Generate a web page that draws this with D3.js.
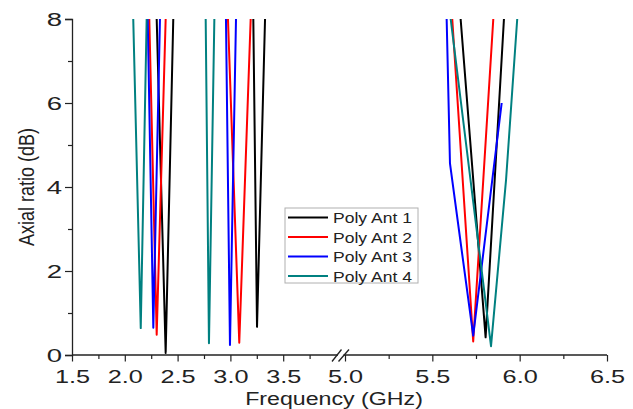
<!DOCTYPE html>
<html>
<head>
<meta charset="utf-8">
<script src="https://cdn.jsdelivr.net/npm/d3@7"></script>
<style>
  html, body { margin: 0; padding: 0; background: #fff; }
  svg { display: block; font-family: "Liberation Sans", Arial, sans-serif; }
</style>
</head>
<body>
<svg id="chart" width="633" height="409"></svg>
<script>
// Axial ratio (dB) versus frequency (GHz) for four antenna variants.
// Each series is a list of [frequency, axial ratio] points; null splits the bands.
const seriesNames = ["Poly Ant 1", "Poly Ant 2", "Poly Ant 3", "Poly Ant 4"];
const seriesColors = ["#000000", "#ff0000", "#0000ff", "#008080"];

const polyAnt1 = [
  [2.302, 8], [2.387, 0.05], [2.459, 8], null,
  [3.217, 8], [3.252, 0.67], [3.328, 8], null,
  [5.662, 8], [5.805, 0.42], [5.910, 8]
];
const polyAnt2 = [
  [2.232, 8], [2.302, 0.48], [2.387, 8], null,
  [2.977, 8], [3.084, 0.29], [3.192, 8], null,
  [5.614, 8], [5.734, 0.32], [5.849, 8]
];
const polyAnt3 = [
  [2.217, 8], [2.270, 0.65], [2.333, 8], null,
  [2.958, 8], [2.996, 0.24], [3.053, 8], null,
  [5.582, 8], [5.601, 4.56], [5.734, 0.46], [5.897, 6.0]
];
const polyAnt4 = [
  [2.080, 8], [2.151, 0.64], [2.207, 8], null,
  [2.766, 8], [2.797, 0.28], [2.848, 8], null,
  [5.605, 8], [5.836, 0.21], [5.922, 4.17], [5.986, 8]
];
const seriesData = [polyAnt1, polyAnt2, polyAnt3, polyAnt4];

// Broken frequency axis: 1.5–4.0 GHz, then 5.0–6.5 GHz
const xMajorLow = [1.5, 2.0, 2.5, 3.0, 3.5];
const xMinorLow = [1.75, 2.25, 2.75, 3.25, 3.75];
const xMajorHigh = [5.0, 5.5, 6.0, 6.5];
const xMinorHigh = [5.25, 5.75, 6.25];
const yMajor = [0, 2, 4, 6, 8];
const yMinor = [1, 3, 5, 7];

const svg = d3.select("#chart");
const plotLeft = 72, plotRight = 607, plotTop = 19, plotBottom = 355;
const breakLow = 4.0, breakHigh = 5.0;

const x = d3.scaleLinear()
  .domain([1.5, breakLow, breakHigh, 6.5])
  .range([plotLeft, 336, 345, plotRight]);
const y = d3.scaleLinear().domain([0, 8]).range([plotBottom, plotTop]);

const stretch = 1.33;   // wide tick lettering
const fmt = d3.format(".1f");

// ---- x axis ----
const gx = svg.append("g").attr("transform", `translate(0,${plotBottom})`);
gx.append("g")
  .call(d3.axisBottom(x).tickValues(xMajorLow.concat(xMajorHigh)).tickSize(6.5).tickFormat(fmt))
  .call(g => g.select(".domain").remove())
  .call(g => g.selectAll(".tick line").attr("stroke", "#222").attr("stroke-width", 1.2))
  .call(g => g.selectAll(".tick text")
    .attr("y", 15).attr("fill", "#222").style("font-size", "19px")
    .attr("transform", `scale(${stretch},1)`));
gx.append("g")
  .call(d3.axisBottom(x).tickValues(xMinorLow.concat(xMinorHigh)).tickSize(4).tickFormat(""))
  .call(g => g.select(".domain").remove())
  .call(g => g.selectAll(".tick line").attr("stroke", "#222").attr("stroke-width", 1.2));
// axis line segments either side of the break
gx.append("line").attr("x1", plotLeft).attr("x2", 338).attr("stroke", "#222").attr("stroke-width", 1.3);
gx.append("line").attr("x1", 343.5).attr("x2", plotRight).attr("stroke", "#222").attr("stroke-width", 1.3);
// break marks
[[332, 6.5, 341.5, -5.5], [338.5, 6.5, 349, -5.5]].forEach(([x1, y1, x2, y2]) => {
  gx.append("line").attr("x1", x1).attr("y1", y1).attr("x2", x2).attr("y2", y2)
    .attr("stroke", "#222").attr("stroke-width", 1.3);
});

// ---- y axis ----
const gy = svg.append("g").attr("transform", `translate(${plotLeft},0)`);
gy.append("g")
  .call(d3.axisLeft(y).tickValues(yMajor).tickSize(7).tickFormat(d3.format("d")))
  .call(g => g.select(".domain").attr("stroke", "#222").attr("stroke-width", 1.3))
  .call(g => g.selectAll(".tick line").attr("stroke", "#222").attr("stroke-width", 1.2))
  .call(g => g.selectAll(".tick text")
    .attr("x", 0).attr("fill", "#222").style("font-size", "19px")
    .attr("transform", `translate(-10,0) scale(${stretch + 0.12},1)`));
gy.append("g")
  .call(d3.axisLeft(y).tickValues(yMinor).tickSize(4).tickFormat(""))
  .call(g => g.select(".domain").remove())
  .call(g => g.selectAll(".tick line").attr("stroke", "#222").attr("stroke-width", 1.2));

// ---- axis titles ----
svg.append("text")
  .attr("transform", "translate(334,405) scale(1.22,1)")
  .attr("text-anchor", "middle")
  .attr("fill", "#222")
  .style("font-size", "19px")
  .text("Frequency (GHz)");
svg.append("text")
  .attr("transform", "translate(34,187) scale(1.25,1) rotate(-90)")
  .attr("text-anchor", "middle")
  .attr("fill", "#222")
  .style("font-size", "18px")
  .text("Axial ratio (dB)");

// ---- curves ----
const line = d3.line()
  .defined(d => d !== null)
  .x(d => x(d[0]))
  .y(d => y(d[1]));

const curves = svg.append("g")
  .attr("fill", "none")
  .attr("stroke-width", 2)
  .attr("stroke-linejoin", "round");
seriesData.forEach((pts, i) => {
  curves.append("path")
    .attr("d", line(pts))
    .attr("stroke", seriesColors[i]);
});

// ---- legend ----
const legend = svg.append("g").attr("transform", "translate(285,208)");
legend.append("rect")
  .attr("width", 133).attr("height", 75)
  .attr("fill", "#fff")
  .attr("stroke", "#b0b0b0").attr("stroke-width", 1);
seriesNames.forEach((name, i) => {
  const cy = 9.5 + i * 19.5;
  legend.append("line")
    .attr("x1", 3).attr("x2", 43).attr("y1", cy).attr("y2", cy)
    .attr("stroke", seriesColors[i]).attr("stroke-width", 2);
  legend.append("text")
    .attr("transform", `translate(48,${cy + 5.5}) scale(1.17,1)`)
    .attr("fill", "#222")
    .style("font-size", "15px")
    .text(name);
});
</script>
</body>
</html>
